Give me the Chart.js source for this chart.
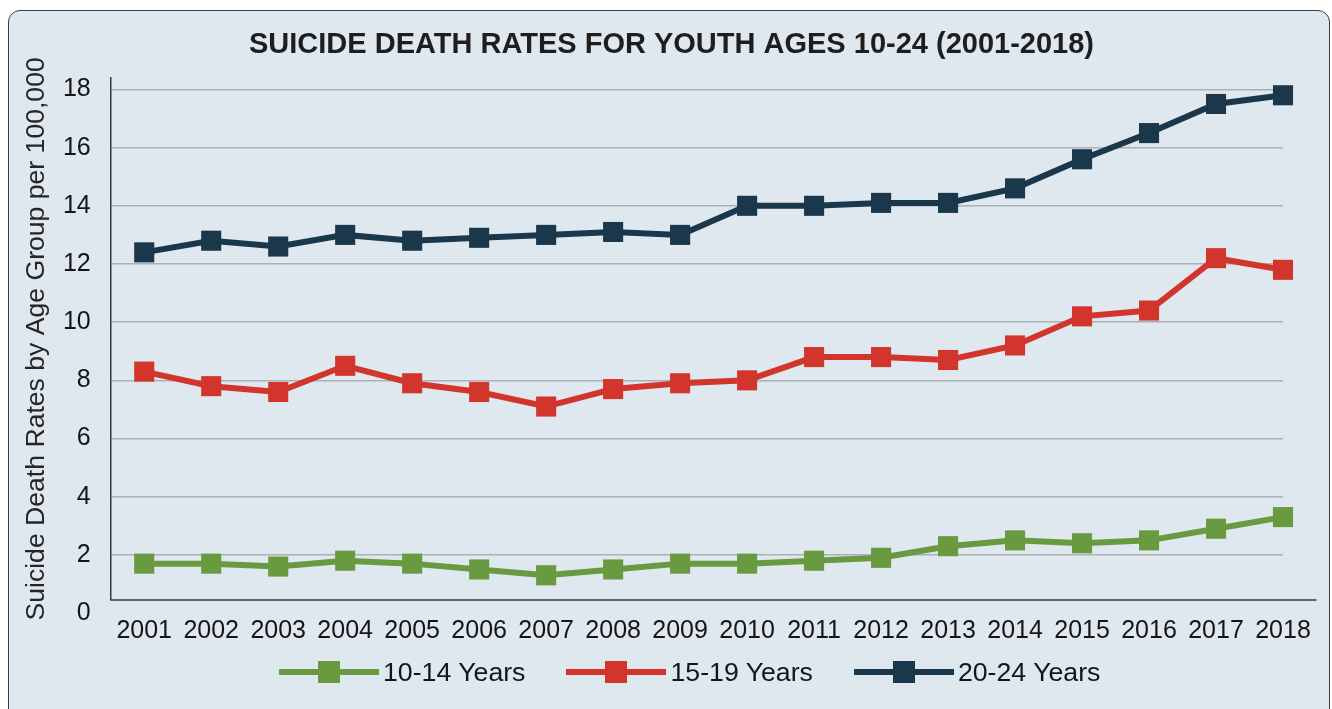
<!DOCTYPE html>
<html>
<head>
<meta charset="utf-8">
<title>Suicide Death Rates for Youth Ages 10-24 (2001-2018)</title>
<script src="https://cdn.jsdelivr.net/npm/chart.js@4.4.1/dist/chart.umd.min.js"></script>
<style>
  html, body { margin: 0; padding: 0; background: #fff; }
  body { position: relative; width: 1332px; height: 709px; overflow: hidden;
         font-family: "Liberation Sans", Arial, sans-serif; }
  .card { position: absolute; left: 8px; top: 10px; width: 1322px; height: 730px;
          box-sizing: border-box; background: #dfe7ef; border: 1.5px solid #3c3c3c; border-radius: 12px; }
  #chart { position: absolute; left: 0; top: 0; }
  #legend { position: absolute; left: 279px; top: 657px; display: flex; align-items: center;
            font-size: 26.7px; line-height: 30px; color: #151515; }
  #legend .item { display: flex; align-items: center; margin-right: 41px; }
  #legend .swatch { position: relative; width: 100px; height: 22px; margin-right: 4px; }
  #legend .swatch .line { position: absolute; left: 0; right: 0; top: 8px; height: 6px; }
  #legend .swatch .box { position: absolute; left: 39px; top: 0; width: 22px; height: 22px; }
</style>
</head>
<body>
<div class="card"></div>
<canvas id="chart" width="1332" height="709"></canvas>
<div id="legend"></div>
<script>
// values (rate per 100,000)
var years = [2001, 2002, 2003, 2004, 2005, 2006, 2007, 2008, 2009,
             2010, 2011, 2012, 2013, 2014, 2015, 2016, 2017, 2018];
var ages10to14 = [1.7, 1.7, 1.6, 1.8, 1.7, 1.5, 1.3, 1.5, 1.7, 1.7, 1.8, 1.9, 2.3, 2.5, 2.4, 2.5, 2.9, 3.3];
var ages15to19 = [8.3, 7.8, 7.6, 8.5, 7.9, 7.6, 7.1, 7.7, 7.9, 8.0, 8.8, 8.8, 8.7, 9.2, 10.2, 10.4, 12.2, 11.8];
var ages20to24 = [12.4, 12.8, 12.6, 13.0, 12.8, 12.9, 13.0, 13.1, 13.0, 14.0, 14.0, 14.1, 14.1, 14.6, 15.6, 16.5, 17.5, 17.8];
var yTicks = [0, 2, 4, 6, 8, 10, 12, 14, 16, 18];
var seriesNames = ["10-14 Years", "15-19 Years", "20-24 Years"];

var GREEN = "#699a3f", RED = "#d2352c", NAVY = "#1a374c";
var GRID = "#abb0b5", AXIS = "#3a3a3a";
var FONT = "'Liberation Sans', Arial, sans-serif";

function points(vals) {
  return years.map(function (yr, i) { return { x: yr, y: vals[i] }; });
}

function series(label, vals, color) {
  return {
    label: label,
    data: points(vals),
    borderColor: color,
    backgroundColor: color,
    borderWidth: 6,
    pointStyle: "rect",
    pointRadius: 14.2,
    pointHoverRadius: 14.2,
    pointBorderWidth: 0,
    clip: false
  };
}

// legend as html, built from the datasets
var htmlLegend = {
  id: "htmlLegend",
  afterUpdate: function (chart) {
    var box = document.getElementById("legend");
    box.innerHTML = "";
    chart.data.datasets.forEach(function (ds) {
      var item = document.createElement("div");
      item.className = "item";
      item.innerHTML = '<span class="swatch"><span class="line" style="background:' + ds.borderColor +
        '"></span><span class="box" style="background:' + ds.borderColor + '"></span></span>' +
        '<span class="text"></span>';
      item.querySelector(".text").textContent = ds.label;
      box.appendChild(item);
    });
  }
};

// x axis line runs half a category past the last point, like the original
var axisLine = {
  id: "axisLine",
  afterDraw: function (chart) {
    var a = chart.chartArea, x = chart.scales.x, ctx = chart.ctx;
    ctx.save();
    ctx.strokeStyle = AXIS;
    ctx.lineWidth = 1.5;
    ctx.beginPath();
    ctx.moveTo(a.left, a.bottom);
    ctx.lineTo(x.getPixelForValue(years[years.length - 1] + 0.5), a.bottom);
    ctx.stroke();
    ctx.restore();
  }
};

new Chart(document.getElementById("chart"), {
  type: "line",
  data: {
    datasets: [
      series(seriesNames[0], ages10to14, GREEN),
      series(seriesNames[1], ages15to19, RED),
      series(seriesNames[2], ages20to24, NAVY)
    ]
  },
  options: {
    responsive: false,
    animation: false,
    layout: { padding: { left: 16, right: 5, top: 10, bottom: 47 } },
    plugins: {
      legend: { display: false },
      tooltip: { enabled: false },
      title: {
        display: true,
        text: "SUICIDE DEATH RATES FOR YOUTH AGES 10-24 (2001-2018)",
        color: "#1e1e1e",
        font: { family: FONT, size: 29, weight: "bold" },
        padding: { top: 18, bottom: 15 }
      }
    },
    scales: {
      x: {
        type: "linear",
        min: 2000.5,
        max: 2018,
        afterBuildTicks: function (scale) {
          scale.ticks = years.map(function (v) { return { value: v }; });
        },
        grid: { display: false, drawTicks: false },
        border: { display: false },
        ticks: {
          color: "#151515",
          padding: 16,
          font: { family: FONT, size: 25 },
          maxRotation: 0,
          autoSkip: false,
          callback: function (v) { return String(v); }
        }
      },
      y: {
        min: 0.45,
        max: 18.4,
        afterBuildTicks: function (scale) {
          scale.ticks = yTicks.map(function (v) { return { value: v }; });
        },
        grid: {
          drawTicks: false,
          lineWidth: 1.5,
          color: function (ctx) {
            return ctx.tick && ctx.tick.value < ctx.scale.min ? "rgba(0,0,0,0)" : GRID;
          }
        },
        border: { display: true, color: AXIS, width: 1.5 },
        ticks: {
          color: "#151515",
          padding: 20,
          font: { family: FONT, size: 25 }
        },
        title: {
          display: true,
          text: "Suicide Death Rates by Age Group per 100,000",
          color: "#262626",
          font: { family: FONT, size: 26.6 },
          padding: { top: 5, bottom: -10 }
        }
      },
      // empty right-hand gutter so the plot ends where the original's does
      gutter: {
        position: "right",
        display: true,
        grid: { display: false, drawTicks: false },
        border: { display: false },
        ticks: { display: false },
        afterFit: function (scale) { scale.width = 44; }
      }
    }
  },
  plugins: [htmlLegend, axisLine]
});
</script>
</body>
</html>
